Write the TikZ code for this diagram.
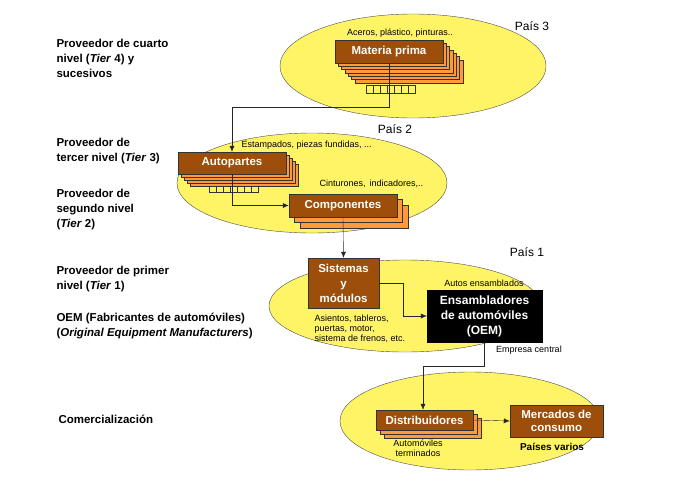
\documentclass[tikz,border=0pt]{standalone}
\usepackage{fontspec}
\setmainfont{Liberation Sans}
\usetikzlibrary{arrows.meta, positioning}
\definecolor{pais}{HTML}{FFF466}
\definecolor{cafe}{HTML}{9C4E0A}
\definecolor{naranja}{HTML}{FF9A3C}
\tikzset{
  region/.style={draw=black!70, fill=pais},
  caja/.style={draw=black!80, fill=cafe, text=white, font=\bfseries\fontsize{11.5}{12}\selectfont, align=center, inner sep=1pt},
  copia/.style={draw=black!80, fill=naranja},
  nivel/.style={font=\bfseries\fontsize{11.5}{15}\selectfont, align=left, anchor=north west},
  nota/.style={font=\fontsize{9}{10}\selectfont, align=left},
  flecha/.style={-{Latex[length=6pt,width=5pt]}, black!85}
}
\newcommand{\pila}[6]{% x1 y1 x2 y2 copies step
  \foreach \k in {#5,...,1}
    \draw[copia] (#1+\k*#6,#2+\k*#6) rectangle (#3+\k*#6,#4+\k*#6);
}
\begin{document}
\begin{tikzpicture}[x=1pt, y=-1pt]
  \useasboundingbox (0,0) rectangle (678,490);
  % Paises
  \draw[region] (413,66) ellipse [x radius=133, y radius=52];
  \draw[region] (312,183) ellipse [x radius=135, y radius=50];
  \draw[region] (405,306) ellipse [x radius=136, y radius=46];
  \draw[region] (470,421) ellipse [x radius=130, y radius=49];
  \node (p3) at (532,26) {\fontsize{12}{13}\selectfont País 3};
  \node (p2) at (395,129) {\fontsize{12}{13}\selectfont País 2};
  \node (p1) at (527,252) {\fontsize{12}{13}\selectfont País 1};
  % Niveles
  \node[nivel] (t4) at (53,36) {Proveedor de cuarto\\nivel (\textit{Tier} 4) y\\sucesivos};
  \node[nivel] (t3) at (53,135) {Proveedor de\\tercer nivel (\textit{Tier} 3)};
  \node[nivel] (t2) at (53,186) {Proveedor de\\segundo nivel\\(\textit{Tier} 2)};
  \node[nivel] (t1) at (53,263) {Proveedor de primer\\nivel (\textit{Tier} 1)};
  \node[nivel] (oemt) at (53,310) {OEM (Fabricantes de automóviles)\\(\textit{Original Equipment Manufacturers})};
  \node[nivel] (com) at (55,412) {Comercialización};
  % Materia prima
  \foreach \i in {0,...,6}
    \draw[black!80] (366+\i*7,85) rectangle (373+\i*7,93);
  \pila{335}{40}{443}{63}{6}{3.3}
  \node[caja, minimum width=108pt, minimum height=23pt] (mp) at (389,51.5) {Materia prima};
  \node[nota] (aceros) at (400,33) {Aceros, plástico, pinturas..};
  % Autopartes
  \foreach \i in {0,...,6}
    \draw[black!80] (209+\i*7,185) rectangle (216+\i*7,192);
  \pila{178}{152}{286}{174}{4}{3}
  \node[caja, minimum width=108pt, minimum height=22pt] (auto) at (232,163) {Autopartes};
  \node[nota, anchor=west] (estamp) at (238,145) {Estampados, piezas fundidas, ...};
  % Componentes
  \pila{289}{194}{397}{217}{2}{5.5}
  \node[caja, minimum width=108pt, minimum height=23pt] (comp) at (343,205.5) {Componentes};
  \node[nota, anchor=west] (cint) at (316,184) {Cinturones,\, indicadores,..};
  % Sistemas y OEM
  \node[caja, minimum width=71pt, minimum height=50pt, font=\bfseries\fontsize{11.5}{15}\selectfont] (sis) at (343.5,283) {Sistemas\\y\\módulos};
  \node[nota, anchor=north west, font=\fontsize{9}{10}\selectfont] (asien) at (311,311) {Asientos, tableros,\\puertas, motor,\\sistema de frenos, etc.};
  \node[draw=black, fill=black, text=white, font=\bfseries\fontsize{12}{15}\selectfont, align=center, minimum width=115pt, minimum height=52pt] (oem) at (484.5,316) {Ensambladores\\de automóviles\\(OEM)};
  \node[nota] (ensam) at (484,283) {Autos ensamblados};
  \node[nota] (central) at (529,350) {Empresa central};
  % Comercializacion
  \pila{376}{410}{473}{430}{2}{4}
  \node[caja, minimum width=97pt, minimum height=20pt] (dist) at (424.5,420) {Distribuidores};
  \node[caja, minimum width=93pt, minimum height=32pt, font=\bfseries\fontsize{11.5}{13}\selectfont] (merc) at (556.5,421) {Mercados de\\consumo};
  \node[nota, align=center, font=\fontsize{9}{10}\selectfont] (term) at (418,448) {Automóviles\\terminados};
  \node[font=\bfseries\fontsize{10}{11}\selectfont] (varios) at (552,447) {Países varios};
  % Flechas
  \draw[flecha] (mp.south) |- (232,107) -- (auto.north);
  \draw[flecha] (auto.south) |- (comp.west);
  \draw[flecha] (comp.south) -- (sis.north);
  \draw[flecha] (sis.east |- 0,283) -| (403,316) -- (oem.west);
  \draw[flecha] (oem.south) |- (423,366) -- (dist.north -| 423,0);
  \draw[flecha] (dist.east) -- (merc.west);
\end{tikzpicture}
\end{document}
